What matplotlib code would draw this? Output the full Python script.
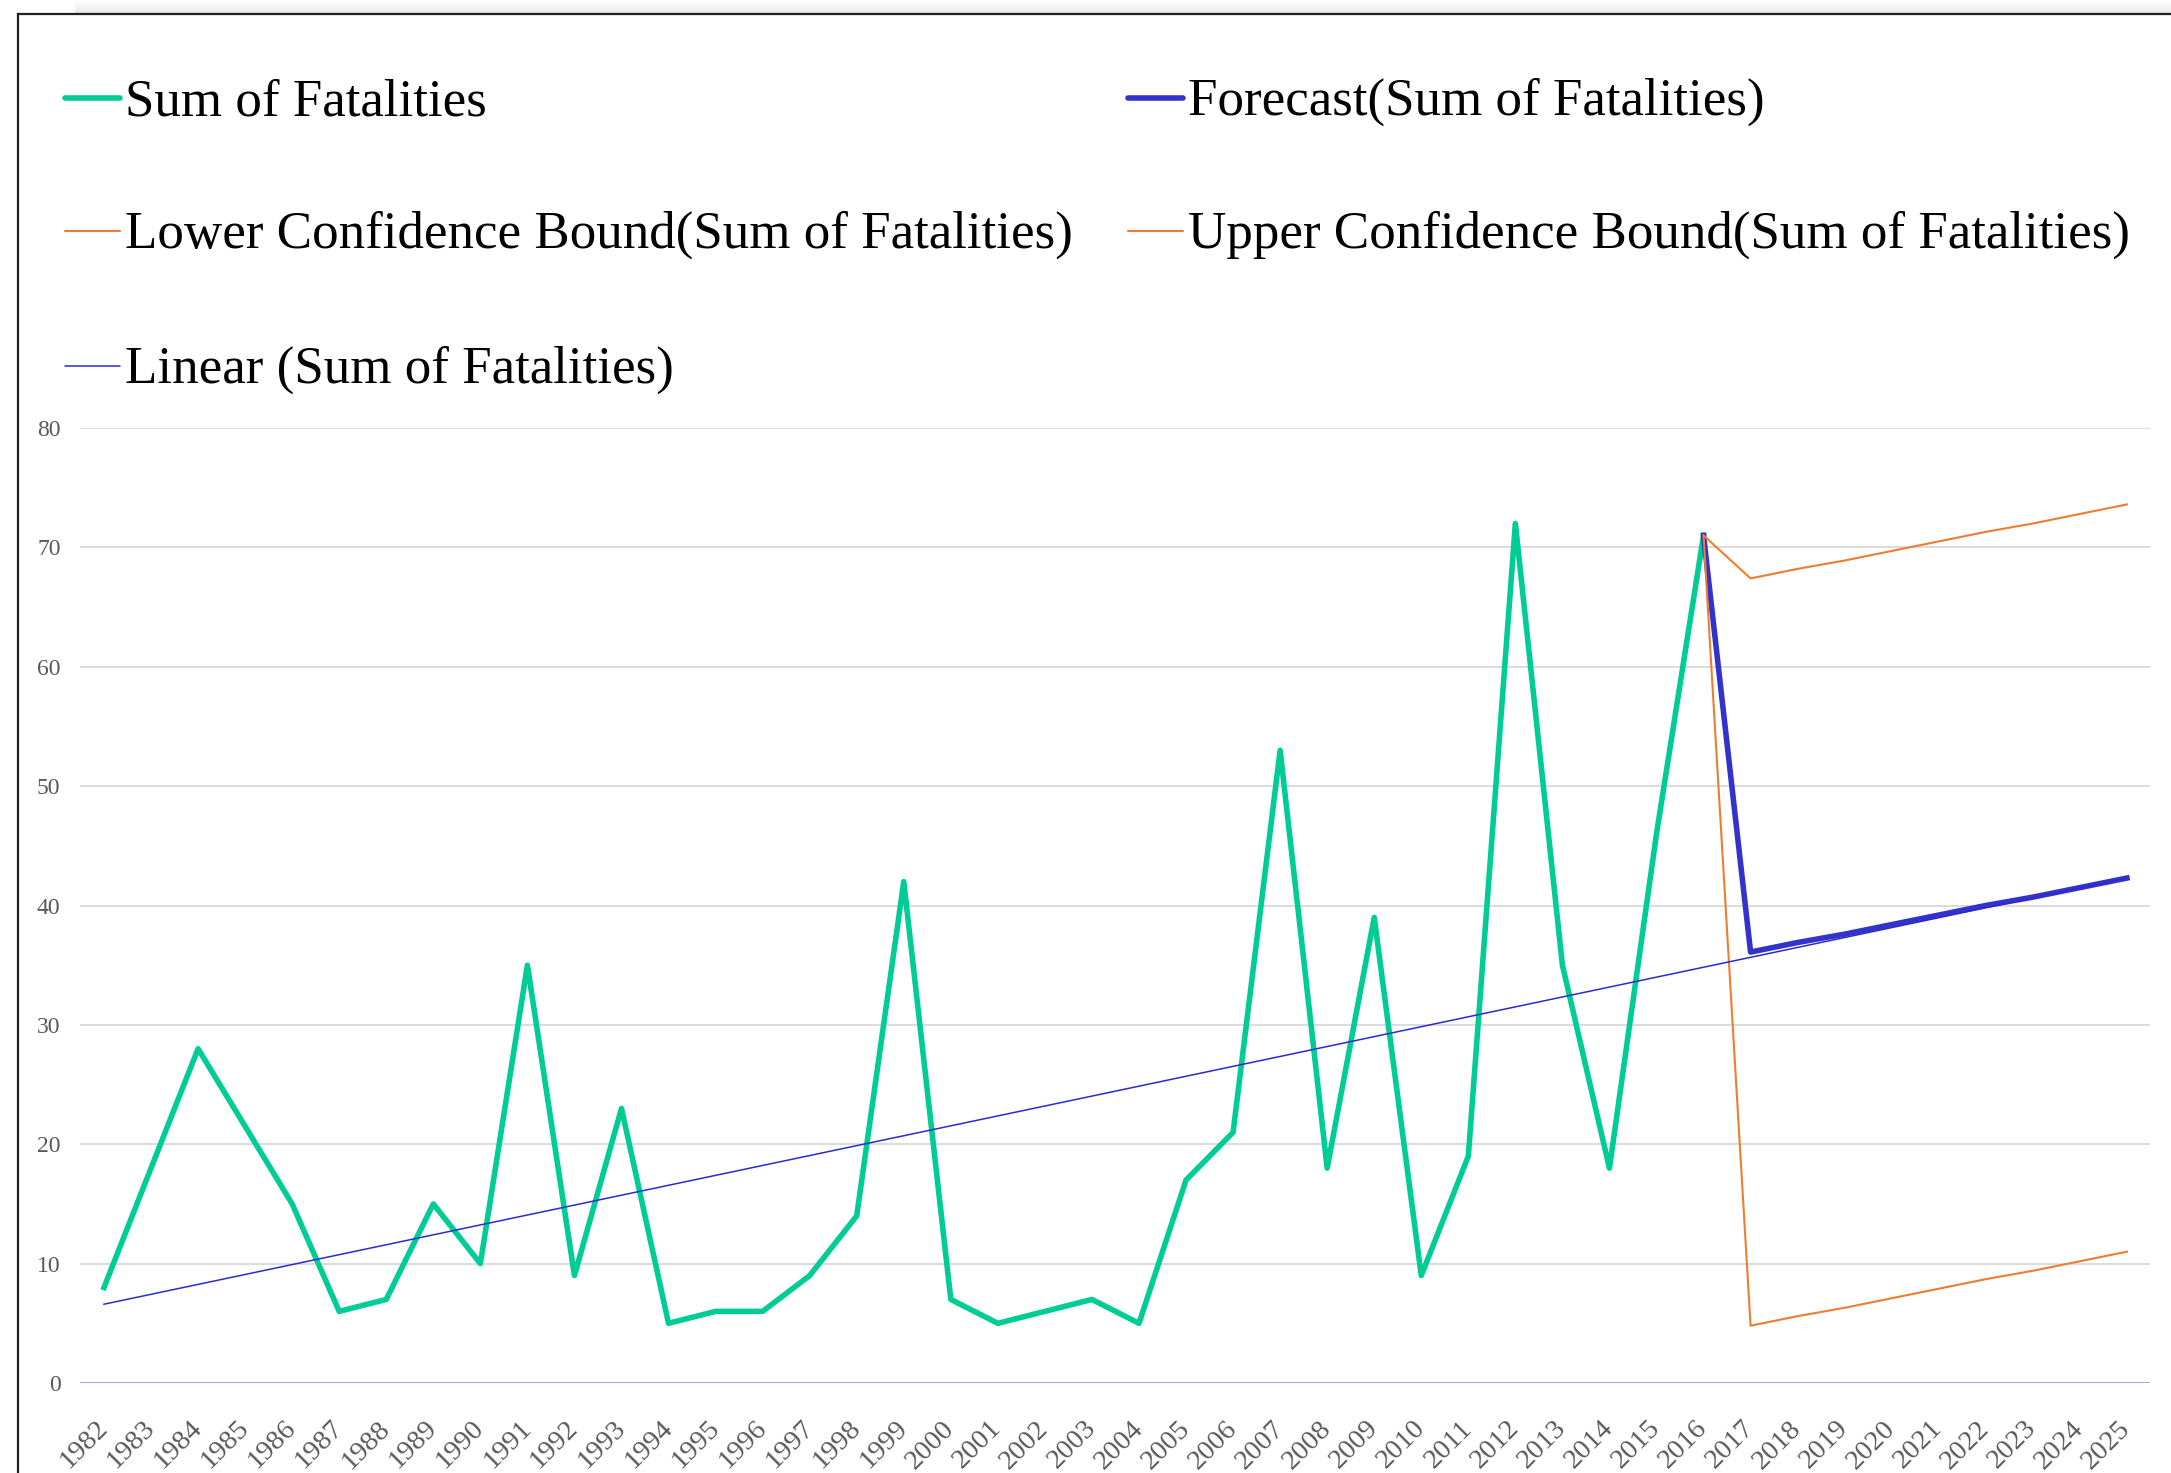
import numpy as np
import matplotlib.pyplot as plt
from matplotlib.lines import Line2D
from matplotlib.patches import Rectangle

W, H = 2171, 1473

# actual series (missing years filled by the forecast sheet)
years = list(range(1982, 2017))
fatalities = [8, 18, 28, 21.5, 15, 6, 7, 15, 10, 35, 9, 23, 5, 6, 6, 9, 14, 42,
              7, 5, 6, 7, 5, 17, 21, 53, 18, 39, 9, 19, 72, 35, 18, 46, 71]

# forecast part
fc_years = list(range(2016, 2026))
forecast = [71, 36.1, 36.9, 37.6, 38.4, 39.2, 40.0, 40.7, 41.5, 42.3]
upper = [71, 67.4, 68.2, 68.9, 69.7, 70.5, 71.3, 72.0, 72.8, 73.6]
lower = [71, 4.8, 5.6, 6.3, 7.1, 7.9, 8.7, 9.4, 10.2, 11.0]

# linear trendline end points
trend_years = [1982, 2025]
trend_vals = [6.6, 42.3]

tick_years = list(range(1982, 2026))
tick_labels = [str(y) for y in tick_years]

GREEN = '#00cc96'
BLUE = '#3333cc'
ORANGE = '#ed7d31'
TREND = '#2b2bcc'

plt.rcParams['font.family'] = ['Liberation Serif', 'DejaVu Serif']

fig = plt.figure(figsize=(W / 100, H / 100), dpi=100)

# shadow strip + frame
sh = fig.add_axes([75 / W, 1 - 13 / H, 1 - 75 / W, 13 / H])
grad = np.linspace(0, 1, 20).reshape(-1, 1)
sh.imshow(grad, cmap='Greys', vmin=0, vmax=6, aspect='auto', extent=[0, 1, 0, 1])
sh.axis('off')
fy = 1 - 14 / H
fx = 18 / W
fig.add_artist(Line2D([fx, fx], [-0.01, fy], transform=fig.transFigure, color='#222222', lw=1.6))
fig.add_artist(Line2D([fx, 1.01], [fy, fy], transform=fig.transFigure, color='#222222', lw=1.6))

ax = fig.add_axes([80 / W, 1 - 1383 / H, (2150 - 80) / W, (1383 - 428) / H])

ax.plot(years, fatalities, color=GREEN, lw=4.0, solid_joinstyle='round', zorder=3)
ax.plot(fc_years, forecast, color=BLUE, lw=4.0, solid_joinstyle='round', zorder=3)
ax.plot(fc_years, lower, color=ORANGE, lw=1.5, zorder=4)
ax.plot(fc_years, upper, color=ORANGE, lw=1.5, zorder=4)
ax.plot(trend_years, trend_vals, color=TREND, lw=1.1, zorder=4)

ax.set_xlim(1981.49, 2025.49)
ax.set_ylim(0, 80)
ax.set_yticks(range(0, 90, 10))
ax.grid(axis='y', color='#d9d9d9', lw=1.3, zorder=0)
ax.axhline(0, color='#9a9ae0', lw=1.8, zorder=2)
for s in ax.spines.values():
    s.set_visible(False)

ax.tick_params(axis='y', length=0, pad=14, labelsize=17, labelcolor='#595959')
ax.set_xticks(tick_years)
ax.set_xticklabels(tick_labels, rotation=45, ha='right', va='center',
                   rotation_mode='anchor', fontsize=20.5, color='#595959')
ax.tick_params(axis='x', length=0, pad=30)

# legend laid out in two columns
legend_items = [
    ('Sum of Fatalities', GREEN, 4.0, 65, 115),
    ('Forecast(Sum of Fatalities)', BLUE, 4.0, 1128, 115),
    ('Lower Confidence Bound(Sum of Fatalities)', ORANGE, 1.5, 65, 248),
    ('Upper Confidence Bound(Sum of Fatalities)', ORANGE, 1.5, 1128, 248),
    ('Linear (Sum of Fatalities)', TREND, 1.1, 65, 383),
]
for label, color, lw, x0, base in legend_items:
    ly = 1 - (base - 17) / H
    fig.add_artist(Line2D([x0 / W, (x0 + 55) / W], [ly, ly], transform=fig.transFigure,
                          color=color, lw=lw, solid_capstyle='round'))
    fig.text((x0 + 60) / W, 1 - base / H, label, fontsize=38.2, va='baseline', ha='left')

fig.savefig('out.png', dpi=100)
